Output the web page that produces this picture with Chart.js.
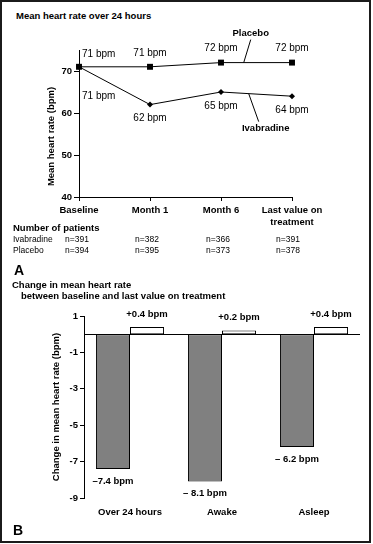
<!DOCTYPE html>
<html>
<head>
<meta charset="utf-8">
<script src="https://cdn.jsdelivr.net/npm/chart.js@4.4.1/dist/chart.umd.min.js"></script>
<style>
  body { margin: 0; background: #fff; }
  #page { position: relative; width: 373px; height: 544px; overflow: hidden;
          font-family: 'Liberation Sans', Arial, sans-serif; color: #000; }
  #frame { position: absolute; left: 0; top: 0; width: 367px; height: 539px; border: 2px solid #1b1b1b; }
  canvas { position: absolute; left: 0; }
  .t { position: absolute; white-space: nowrap; line-height: 1; }
  .b { font-weight: bold; }
</style>
</head>
<body>
<div id="page">
  <div id="frame"></div>
  <div class="t b" style="left:16px;top:11px;font-size:9.5px">Mean heart rate over 24 hours</div>
  <canvas id="chartA" width="373" height="232" style="top:0"></canvas>
  <div class="t b" style="left:13px;top:223px;font-size:9.5px">Number of patients</div>
  <div id="patients"></div>
  <div class="t b" style="left:14px;top:263px;font-size:14px">A</div>
  <div class="t b" style="left:12px;top:280px;font-size:9.5px">Change in mean heart rate</div>
  <div class="t b" style="left:21px;top:291px;font-size:9.5px">between baseline and last value on treatment</div>
  <canvas id="chartB" width="373" height="230" style="top:300px"></canvas>
  <div class="t b" style="left:13px;top:523px;font-size:14px">B</div>
</div>
<script>
// Panel A - mean heart rate over 24 hours
const timepoints = ['Baseline', 'Month 1', 'Month 6', ['Last value on', 'treatment']];
const placeboHR = [71, 71, 72, 72];
const ivabradineHR = [71, 62, 65, 64];
const hrTicks = [40, 50, 60, 70];
const nIvabradine = [391, 382, 366, 391];
const nPlacebo = [394, 395, 373, 378];

// Panel B - change between baseline and last value on treatment
const periods = ['Over 24 hours', 'Awake', 'Asleep'];
const ivabradineChange = [-7.4, -8.1, -6.2];
const placeboChange = [0.4, 0.2, 0.4];
const ivabradineChangeText = ['–7.4 bpm', '– 8.1 bpm', '– 6.2 bpm'];
const placeboChangeText = ['+0.4 bpm', '+0.2 bpm', '+0.4 bpm'];
const changeTicks = [1, -1, -3, -5, -7, -9];

const FONT = "'Liberation Sans', Arial, sans-serif";
Chart.defaults.font.family = FONT;
Chart.defaults.color = '#000';

// patients table
const cols = [65, 135, 206, 276];
let rows = '';
[['Ivabradine', nIvabradine, 235], ['Placebo', nPlacebo, 246]].forEach(([name, ns, top]) => {
    rows += `<div class="t" style="left:13px;top:${top}px;font-size:8.5px">${name}</div>`;
    ns.forEach((n, i) => {
        rows += `<div class="t" style="left:${cols[i]}px;top:${top}px;font-size:8.5px">n=${n}</div>`;
    });
});
document.getElementById('patients').innerHTML = rows;

// value labels, series names and y title for panel A
const lineLabels = {
    id: 'lineLabels',
    afterDatasetsDraw(chart) {
        const ctx = chart.ctx;
        const xs = chart.scales.x, ys = chart.scales.y, area = chart.chartArea;
        ctx.save();
        ctx.fillStyle = '#000';
        ctx.strokeStyle = '#000';
        ctx.lineWidth = 1;
        ctx.textBaseline = 'middle';
        ctx.font = `10px ${FONT}`;
        chart.data.datasets.forEach((ds, di) => {
            const above = ds.label === 'Placebo';
            chart.getDatasetMeta(di).data.forEach((pt, i) => {
                let x = pt.x, y = above ? pt.y - 14 : pt.y + 14;
                ctx.textAlign = 'center';
                if (i === 0) {
                    x += 3;
                    ctx.textAlign = 'left';
                    y = above ? pt.y - 13 : pt.y + 29;
                }
                ctx.fillText(ds.data[i] + ' bpm', x, y);
            });
        });

        // series names with leader lines
        const onLine = (data, pos) => {
            const i = Math.floor(pos), f = pos - i;
            return ys.getPixelForValue(data[i] + (data[i + 1] - data[i]) * f);
        };
        ctx.font = `bold 9.5px ${FONT}`;
        ctx.textAlign = 'center';
        let px = xs.getPixelForValue(2.32), py = onLine(placeboHR, 2.32);
        ctx.beginPath(); ctx.moveTo(px, py); ctx.lineTo(px + 7, py - 23); ctx.stroke();
        ctx.fillText('Placebo', px + 7, py - 29);
        px = xs.getPixelForValue(2.39); py = onLine(ivabradineHR, 2.39);
        ctx.beginPath(); ctx.moveTo(px, py); ctx.lineTo(px + 10, py + 28); ctx.stroke();
        ctx.fillText('Ivabradine', px + 17, py + 35);

        // y axis title, sits a little below the middle of the axis
        ctx.translate(area.left - 28, (area.top + area.bottom) / 2 + 13);
        ctx.rotate(-Math.PI / 2);
        ctx.fillText('Mean heart rate (bpm)', 0, 0);
        ctx.restore();
    }
};

new Chart(document.getElementById('chartA'), {
    type: 'line',
    data: {
        labels: timepoints,
        datasets: [{
            label: 'Placebo',
            data: placeboHR,
            borderColor: '#000',
            borderWidth: 1,
            backgroundColor: '#000',
            pointStyle: 'rect',
            pointRadius: 4.2,
            pointBorderWidth: 0,
            clip: false
        }, {
            label: 'Ivabradine',
            data: ivabradineHR,
            borderColor: '#000',
            borderWidth: 1,
            backgroundColor: '#000',
            pointStyle: 'rectRot',
            pointRadius: 3,
            pointBorderWidth: 0,
            clip: false
        }]
    },
    options: {
        responsive: false,
        animation: false,
        layout: { padding: { top: 50, right: 81, left: 0, bottom: 0 } },
        plugins: { legend: { display: false }, tooltip: { enabled: false } },
        scales: {
            x: {
                offset: false,
                grid: { drawOnChartArea: false, color: '#000', tickLength: 4 },
                border: { color: '#000', width: 1 },
                ticks: { font: { size: 9.5, weight: 'bold', lineHeight: 1.3 }, padding: 3, maxRotation: 0, autoSkip: false },
                afterFit: s => { s.height = 35; }
            },
            y: {
                min: 40,
                max: 75,
                grid: { drawOnChartArea: false, color: '#000', tickLength: 5 },
                border: { color: '#000', width: 1 },
                ticks: { font: { size: 9.5, weight: 'bold' }, padding: 2 },
                afterBuildTicks: s => { s.ticks = hrTicks.map(v => ({ value: v })); },
                afterFit: s => { s.width = 79; }
            }
        }
    },
    plugins: [lineLabels]
});

// zero line and bar labels for panel B
const barLabels = {
    id: 'barLabels',
    afterDatasetsDraw(chart) {
        const ctx = chart.ctx, area = chart.chartArea;
        const y0 = chart.scales.y.getPixelForValue(0);
        ctx.save();
        ctx.strokeStyle = '#000';
        ctx.lineWidth = 1;
        ctx.beginPath();
        ctx.moveTo(area.left, Math.round(y0) + 0.5);
        ctx.lineTo(area.right, Math.round(y0) + 0.5);
        ctx.stroke();
        ctx.fillStyle = '#000';
        ctx.font = `bold 9.5px ${FONT}`;
        ctx.textAlign = 'center';
        ctx.textBaseline = 'middle';
        const texts = [ivabradineChangeText, placeboChangeText];
        chart.data.datasets.forEach((ds, di) => {
            chart.getDatasetMeta(di).data.forEach((bar, i) => {
                const y = ds.data[i] < 0 ? bar.y + 12 : bar.y - 13;
                ctx.fillText(texts[di][i], bar.x, y);
            });
        });
        ctx.restore();
    }
};

new Chart(document.getElementById('chartB'), {
    type: 'bar',
    data: {
        labels: periods,
        datasets: [{
            label: 'Ivabradine',
            data: ivabradineChange,
            backgroundColor: '#808080',
            borderColor: '#000',
            borderWidth: 1,
            borderSkipped: false
        }, {
            label: 'Placebo',
            data: placeboChange,
            backgroundColor: '#fff',
            borderColor: '#000',
            borderWidth: 1,
            borderSkipped: false
        }]
    },
    options: {
        responsive: false,
        animation: false,
        layout: { padding: { top: 16, right: 13, left: 0, bottom: 0 } },
        datasets: { bar: { categoryPercentage: 0.74, barPercentage: 1 } },
        plugins: { legend: { display: false }, tooltip: { enabled: false } },
        scales: {
            x: {
                grid: { display: false, drawTicks: false },
                border: { display: false },
                ticks: { font: { size: 9.5, weight: 'bold' }, padding: 9 },
                afterFit: s => { s.height = 32; }
            },
            y: {
                min: -9,
                max: 1,
                grid: { drawOnChartArea: false, color: '#000', tickLength: 4 },
                border: { color: '#000', width: 1 },
                ticks: { font: { size: 9.5, weight: 'bold' }, padding: 2 },
                title: {
                    display: true,
                    text: 'Change in mean heart rate (bpm)',
                    font: { size: 9.5, weight: 'bold' },
                    padding: { top: 51, bottom: 0 }
                },
                afterBuildTicks: s => { s.ticks = changeTicks.map(v => ({ value: v })); },
                afterFit: s => { s.width = 84; }
            }
        }
    },
    plugins: [barLabels]
});
</script>
</body>
</html>
